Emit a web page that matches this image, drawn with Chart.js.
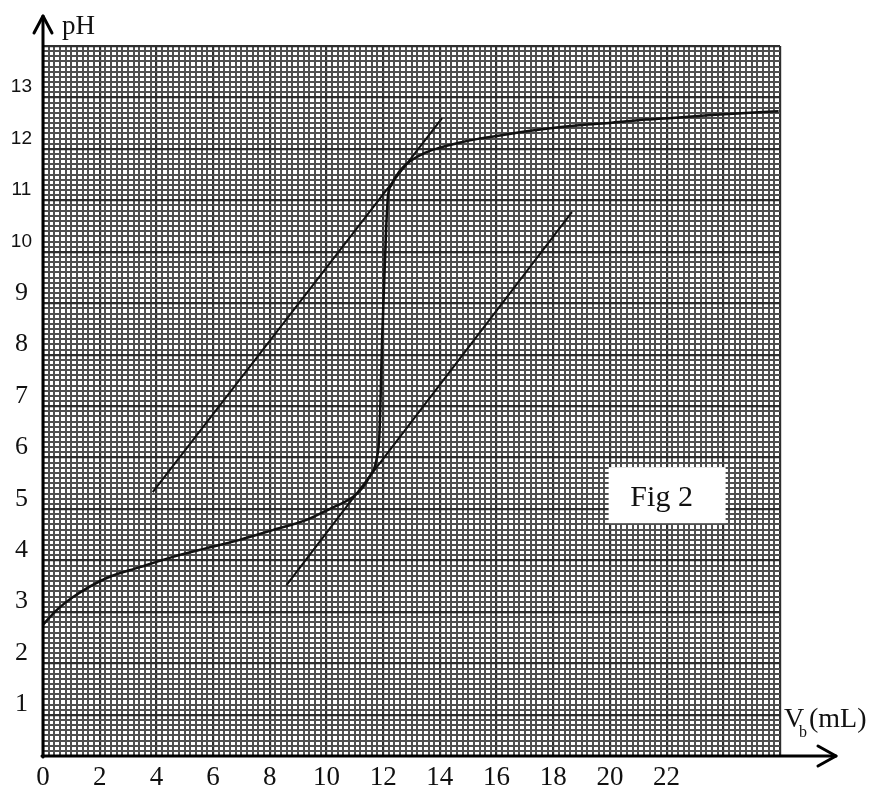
<!DOCTYPE html>
<html>
<head>
<meta charset="utf-8">
<title>Fig 2 - pH vs Vb</title>
<script src="https://cdn.jsdelivr.net/npm/chart.js@4.4.1/dist/chart.umd.min.js"></script>
<style>
    html, body { margin: 0; padding: 0; background: #fff; }
    #wrap { width: 889px; height: 790px; position: relative; }
</style>
</head>
<body>
<div id="wrap"><canvas id="phChart"></canvas></div>
<script>
// Titration curve
const volumeMl = [0, 0.49, 1.06, 2.25, 3.42, 4.58, 5.77, 6.94, 8.10, 9.30, 10.11, 10.92, 11.25,
    11.51, 11.76, 11.87, 11.97, 12.11, 12.17, 12.29, 12.57, 12.92, 13.38, 13.98, 14.68,
    15.39, 16.55, 17.75, 18.91, 20.07, 21.27, 22.43, 23.59, 24.79, 25.95];
const phValues = [2.55, 2.84, 3.09, 3.46, 3.67, 3.87, 4.04, 4.20, 4.39, 4.59, 4.80, 5.03, 5.20,
    5.42, 5.75, 6.28, 8.22, 10.30, 10.88, 11.10, 11.36, 11.55, 11.70, 11.82, 11.92,
    12.00, 12.10, 12.19, 12.26, 12.31, 12.37, 12.41, 12.46, 12.50, 12.53];

// The two parallel tangents
const upperTangentMl = [3.87, 14.08];
const upperTangentPh = [5.13, 12.40];
const lowerTangentMl = [8.59, 18.66];
const lowerTangentPh = [3.32, 10.57];

// Labelled ticks
const xTickLabels = [0, 2, 4, 6, 8, 10, 12, 14, 16, 18, 20, 22];
const yTickLabels = [1, 2, 3, 4, 5, 6, 7, 8, 9, 10, 11, 12, 13];

const serif = '"Liberation Serif", "Times New Roman", serif';
const sans = '"Liberation Sans", Arial, sans-serif';

function toPoints(xs, ys) {
    return xs.map((x, i) => ({ x: x, y: ys[i] }));
}

function isNear(v, w) {
    return Math.abs(v - w) < 1e-6;
}

function inList(list, v) {
    return list.some(w => isNear(v, w));
}

// heavy rules of the paper: every 2 mL across, and a little under each integer pH
function isMajorX(v) {
    return isNear(v / 2, Math.round(v / 2));
}
function isMajorY(v) {
    const f = v - Math.floor(v + 1e-6);
    return isNear(f, 0.8);
}

// "Fig 2" box
const figLabel = {
    id: 'figLabel',
    afterDatasetsDraw(chart) {
        const ctx = chart.ctx;
        const cx = chart.scales.x.getPixelForValue(22);
        const cy = chart.scales.y.getPixelForValue(5.07);
        ctx.save();
        ctx.fillStyle = '#fff';
        ctx.fillRect(cx - 58, cy - 28, 117, 56);
        ctx.fillStyle = '#111';
        ctx.font = '30px ' + serif;
        ctx.textAlign = 'center';
        ctx.textBaseline = 'alphabetic';
        ctx.fillText('Fig 2', cx - 5, cy + 11);
        ctx.restore();
    }
};

// Black axes with open arrowheads, plus axis titles
const arrowAxes = {
    id: 'arrowAxes',
    afterDraw(chart) {
        const ctx = chart.ctx;
        const area = chart.chartArea;
        const ox = area.left;
        const oy = area.bottom;
        ctx.save();
        ctx.strokeStyle = '#000';
        ctx.lineWidth = 3;
        ctx.lineCap = 'round';
        ctx.lineJoin = 'round';

        ctx.beginPath();
        ctx.moveTo(ox, oy + 1);
        ctx.lineTo(ox, 16);
        ctx.stroke();
        ctx.beginPath();
        ctx.moveTo(ox - 9, 33);
        ctx.lineTo(ox, 16);
        ctx.lineTo(ox + 9, 33);
        ctx.stroke();

        ctx.beginPath();
        ctx.moveTo(ox - 1, oy);
        ctx.lineTo(836, oy);
        ctx.stroke();
        ctx.beginPath();
        ctx.moveTo(818, oy - 10);
        ctx.lineTo(836, oy);
        ctx.lineTo(818, oy + 10);
        ctx.stroke();

        ctx.fillStyle = '#111';
        ctx.textBaseline = 'alphabetic';
        ctx.textAlign = 'left';
        ctx.font = '27px ' + serif;
        ctx.fillText('pH', 62, 34);

        ctx.font = '28px ' + serif;
        ctx.fillText('V', 784, 727);
        ctx.font = '16px ' + serif;
        ctx.fillText('b', 799, 737);
        ctx.font = '28px ' + serif;
        ctx.fillText('(mL)', 809, 727);
        ctx.restore();
    }
};

const phCtx = document.getElementById('phChart').getContext('2d');
const phChart = new Chart(phCtx, {
    type: 'scatter',
    data: {
        datasets: [
            {
                label: 'pH',
                data: toPoints(volumeMl, phValues),
                showLine: true,
                borderColor: '#111',
                borderWidth: 2.5,
                pointRadius: 0,
                cubicInterpolationMode: 'monotone'
            },
            {
                label: 'upper tangent',
                data: toPoints(upperTangentMl, upperTangentPh),
                showLine: true,
                borderColor: '#111',
                borderWidth: 2,
                pointRadius: 0
            },
            {
                label: 'lower tangent',
                data: toPoints(lowerTangentMl, lowerTangentPh),
                showLine: true,
                borderColor: '#111',
                borderWidth: 2,
                pointRadius: 0
            }
        ]
    },
    options: {
        responsive: true,
        maintainAspectRatio: false,
        animation: false,
        layout: {
            padding: { top: 46, right: 109, left: 0, bottom: 0 }
        },
        plugins: {
            legend: { display: false },
            tooltip: { enabled: false }
        },
        scales: {
            x: {
                type: 'linear',
                min: 0,
                max: 26,
                border: { display: false },
                grid: {
                    drawTicks: false,
                    color: ctx => isMajorX(ctx.tick.value) ? '#2e2e2e' : '#505050',
                    lineWidth: ctx => isMajorX(ctx.tick.value) ? 2.2 : 2
                },
                ticks: {
                    stepSize: 0.2,
                    autoSkip: false,
                    maxRotation: 0,
                    padding: 6,
                    color: '#111',
                    font: { family: serif, size: 27 },
                    callback: v => inList(xTickLabels, v) ? String(Math.round(v)) : ''
                },
                afterFit: scale => { scale.height = 34; }
            },
            y: {
                type: 'linear',
                min: 0,
                max: 13.8,
                border: { display: false },
                grid: {
                    drawTicks: false,
                    color: ctx => isMajorY(ctx.tick.value) ? '#2e2e2e' : '#505050',
                    lineWidth: ctx => isMajorY(ctx.tick.value) ? 2.2 : 2
                },
                ticks: {
                    stepSize: 0.1,
                    autoSkip: false,
                    padding: 11,
                    crossAlign: 'center',
                    color: '#111',
                    font: ctx => (ctx.tick && ctx.tick.value > 9.5)
                        ? { family: sans, size: 19 }
                        : { family: serif, size: 26 },
                    callback: v => inList(yTickLabels, v) ? String(Math.round(v)) : ''
                },
                afterFit: scale => { scale.width = 43; }
            }
        }
    },
    plugins: [figLabel, arrowAxes]
});
</script>
</body>
</html>
